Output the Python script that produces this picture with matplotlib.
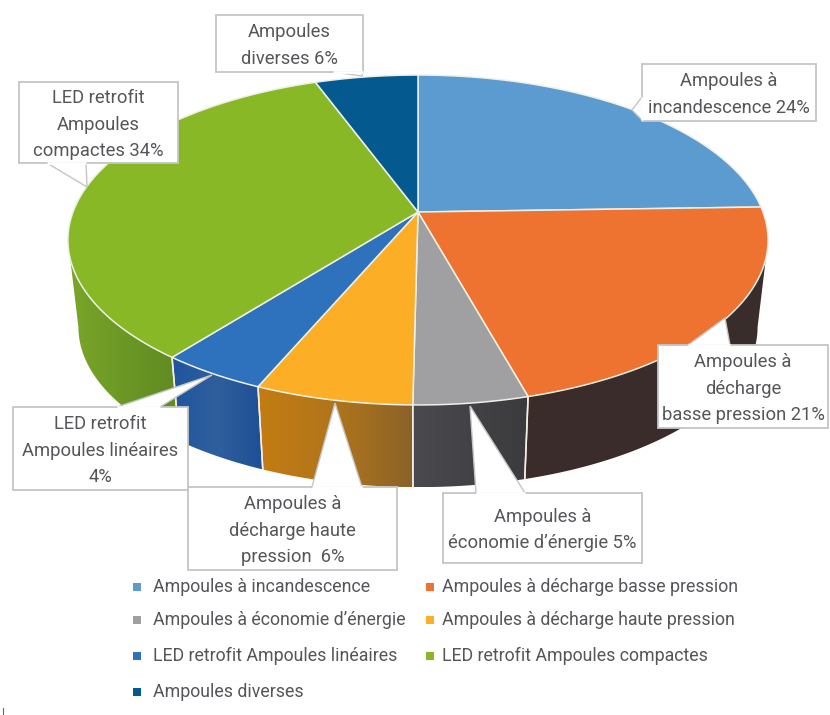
import numpy as np
import matplotlib
matplotlib.use("Agg")
import matplotlib.pyplot as plt
from matplotlib.patches import Polygon
from matplotlib.colors import LinearSegmentedColormap

plt.rcParams['font.family'] = ['Roboto', 'DejaVu Sans']

legend_labels = ["Ampoules à incandescence", "Ampoules à décharge basse pression",
                 "Ampoules à économie d’énergie", "Ampoules à décharge haute pression",
                 "LED retrofit Ampoules linéaires", "LED retrofit Ampoules compactes",
                 "Ampoules diverses"]
# slice shares as read from the drawn slice boundaries (labels give the rounded figures)
values = [24.5, 21.2, 4.5, 6.2, 4.2, 33.8, 5.6]
top_colors = ["#5b9bd0", "#ee7230", "#a0a0a2", "#fdae27", "#2e72be", "#88b826", "#04598f"]
side_colors = [["#3f6f99", "#3f6f99"],
               ["#3a2c2a", "#3a2c2a", "#392e2c"],
               ["#4a4a4f", "#3b3b3d"],
               ["#c47c12", "#b0751c", "#8a6228"],
               ["#1f55a0", "#2f5f9c", "#1e4f96"],
               ["#7ba62a", "#6b9825", "#5f8a22"],
               ["#03405f", "#03405f"]]
callout_text = ["Ampoules à\nincandescence 24%", "Ampoules à\ndécharge\nbasse pression 21%",
                "Ampoules à\néconomie d’énergie 5%", "Ampoules à\ndécharge haute\npression  6%",
                "LED retrofit\nAmpoules linéaires\n4%", "LED retrofit\nAmpoules\ncompactes 34%",
                "Ampoules\ndiverses 6%"]
# callout box x0, y0, x1, y1 and pointer (base-left, tip, base-right) in pixels
callout_box = [(642, 64, 816, 121), (658, 345, 828, 428), (443, 493, 642, 563),
               (188, 487, 397, 570), (13, 407, 188, 490), (19, 82, 178, 163), (216, 15, 363, 72)]
callout_ptr = [[(642, 97), (632, 110), (642, 120)],
               [(688, 345), (725, 318), (730, 345)],
               [(476, 493), (470, 406), (525, 493)],
               [(312, 487), (335, 403), (362, 487)],
               [(117, 407), (212, 375), (160, 407)],
               [(47, 163), (87, 187), (86, 163)],
               [(333, 72), (362, 76), (363, 72)]]
legend_pos = [(137, 153, 587), (430, 442, 587), (137, 153, 620), (430, 442, 620),
              (137, 153, 656), (430, 442, 656), (137, 153, 692)]

W, H = 830, 715
fig = plt.figure(figsize=(W / 100, H / 100), dpi=100)
ax = fig.add_axes([0, 0, 1, 1])
ax.set_axis_off()

K = 0.1697; A = 160.2; B = 345.0; CX = 418.0


def project(t, s=1.0, y0=212.0):
    u, v = np.cos(t), np.sin(t)
    d = 1 + K * u
    return CX + s * B * v / d, y0 - s * A * u / d


def lower(t):
    return project(t, 0.97, 300.0)


edges = np.radians(np.concatenate([[0], np.cumsum(values)]) * 3.6)
LINE = "#f3efe4"
T_R = np.arccos(-K)              # right silhouette of the disc
T_L = 2 * np.pi - T_R            # left silhouette of the disc

# side walls: only the front part of the disc, clipped at its silhouette
for i in [5, 1, 4, 2, 3]:
    t0, t1 = max(edges[i], T_R), min(edges[i + 1], T_L)
    if t1 <= t0:
        continue
    t = np.linspace(t0, t1, 120)
    x1, y1 = project(t)
    x2, y2 = lower(t)
    pts = np.column_stack([np.r_[x1, x2[::-1]], np.r_[y1, y2[::-1]]])
    poly = Polygon(pts, closed=True, fc="none", ec="none", transform=ax.transData)
    ax.add_patch(poly)
    cmap = LinearSegmentedColormap.from_list("s", side_colors[i])
    im = ax.imshow(np.linspace(0, 1, 128)[None, :], cmap=cmap, aspect="auto",
                   extent=(pts[:, 0].min(), pts[:, 0].max(), pts[:, 1].max(), pts[:, 1].min()),
                   zorder=1 + 0.01 * i, interpolation="bilinear")
    im.set_clip_path(poly)
    for te in (edges[i], edges[i + 1]):
        if T_R < te < T_L:
            xa, ya = project(te)
            xb, yb = lower(te)
            ax.plot([xa, xb], [ya, yb], color=LINE, lw=1.1, zorder=2)

# top surface
for i, c in enumerate(top_colors):
    t = np.linspace(edges[i], edges[i + 1], 120)
    x, y = project(t)
    pts = np.column_stack([np.r_[CX, x], np.r_[212.0, y]])
    ax.add_patch(Polygon(pts, closed=True, fc=c, ec="#eef0e6", lw=1.1, zorder=3))

# callouts
for txt, (x0, y0, x1, y1), ptr in zip(callout_text, callout_box, callout_ptr):
    box = [(x0, y0), (x1, y0), (x1, y1), (x0, y1)]
    ax.add_patch(Polygon(box, closed=True, fc="white", ec="#c4c5c7", lw=1.3, zorder=4))
    ax.add_patch(Polygon(ptr, closed=True, fc="white", ec="#c4c5c7", lw=1.0, zorder=4.1))
    ax.plot([ptr[0][0], ptr[2][0]], [ptr[0][1], ptr[2][1]], color="white", lw=2.0, zorder=4.2,
            solid_capstyle="butt")
    ax.text((x0 + x1) / 2, (y0 + y1) / 2 + 2, txt, ha="center", va="center", fontsize=13.2,
            color="#55565a", linespacing=1.6, zorder=5)

# legend
for lab, c, (mx, tx, y) in zip(legend_labels, top_colors, legend_pos):
    ax.scatter([mx], [y], marker="s", s=26, color=c, linewidths=0, zorder=5)
    ax.text(tx, y, lab, ha="left", va="center", fontsize=12.8, color="#55565a", zorder=5)

ax.plot([3, 3], [708, 715], color="#666666", lw=0.8)

ax.set_xlim(0, W)
ax.set_ylim(H, 0)
fig.savefig("out.png", dpi=100, facecolor="white")
